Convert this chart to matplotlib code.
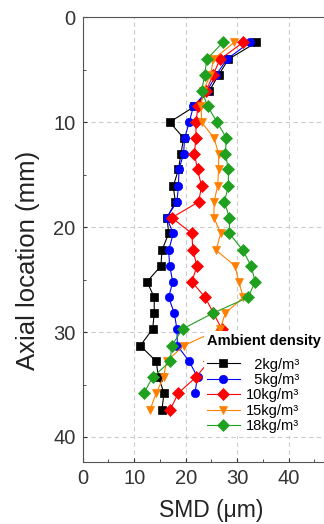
import matplotlib.pyplot as plt
from matplotlib.ticker import MultipleLocator

plt.rcParams['font.family'] = ['Liberation Sans', 'DejaVu Sans']

# Axial positions of the measurement rows (mm)
axial = [2.4, 4.0, 5.5, 7.0, 8.5, 10.0, 11.5, 13.0, 14.5, 16.1, 17.6, 19.1,
         20.6, 22.2, 23.7, 25.2, 26.7, 28.2, 29.7, 31.3, 32.8, 34.3, 35.8, 37.4]

# SMD (um) per ambient density
smd_2 = [33.7, 28.3, 26.4, 24.6, 21.7, 16.9, 19.6, 19.1, 18.6, 17.6, 18.0, 16.4,
         16.7, 15.4, 15.2, 12.5, 13.9, 13.9, 13.6, 11.2, 14.3, 14.7, 15.8, 15.4]
smd_5 = [32.4, 28.0, 25.9, 24.2, 21.5, 20.7, 19.8, 19.6, 18.7, 18.6, 18.3, 16.3,
         17.6, 16.7, 16.9, 17.5, 16.7, 17.8, 18.3, 18.4, 20.7, 22.3, 21.8]
smd_10 = [31.1, 26.7, 25.3, 24.0, 22.4, 22.0, 22.0, 21.7, 22.3, 23.1, 22.5, 17.3,
          21.2, 21.4, 22.2, 21.2, 23.8, 25.4, 27.0, 25.5, 24.5, 22.0, 18.6, 17.0]
smd_15 = [29.4, 25.4, 24.8, 23.4, 23.0, 23.1, 25.5, 26.4, 26.4, 26.2, 25.5, 25.5,
          26.8, 25.9, 29.6, 30.3, 31.2, 27.7, 26.7, 19.6, 16.3, 15.7, 14.3, 13.1]
smd_18 = [27.2, 24.1, 23.7, 23.1, 24.3, 26.1, 27.9, 27.7, 28.3, 28.3, 27.5, 28.5,
          28.5, 31.1, 32.7, 33.5, 32.1, 25.3, 19.4, 17.3, 17.0, 13.6, 11.9]

labels = ['  2kg/m³', '  5kg/m³', '10kg/m³', '15kg/m³', '18kg/m³']
colors = ['black', '#0000ff', '#ff0000', '#ff8000', '#1fa01f']
markers = ['s', 'o', 'D', 'v', 'D']

fig = plt.figure(figsize=(3.24, 5.24), dpi=100)
ax = fig.add_axes([0.255, 0.118, 0.795, 0.849])

series = [smd_2, smd_5, smd_10, smd_15, smd_18]
for vals, lab, c, m in zip(series, labels, colors, markers):
    ax.plot(vals, axial[:len(vals)], color=c, marker=m, markersize=6,
            linewidth=0.8, label=lab, markeredgewidth=0.5, markeredgecolor=c)

ax.set_xlim(0, 50)
ax.set_ylim(42.4, 0)
ax.xaxis.set_major_locator(MultipleLocator(10))
ax.xaxis.set_minor_locator(MultipleLocator(5))
ax.yaxis.set_major_locator(MultipleLocator(10))
ax.yaxis.set_minor_locator(MultipleLocator(5))
ax.set_xticks([0, 10, 20, 30, 40])
ax.tick_params(which='both', direction='in', labelsize=14.5, colors='#333333', pad=5)
ax.tick_params(which='major', length=3)
ax.tick_params(which='minor', length=2)
ax.grid(True, which='major', color='#cccccc', linestyle=(0, (4, 3)), linewidth=0.8)
for s in ax.spines.values():
    s.set_color('#555555')
    s.set_linewidth(0.8)

ax.set_xlabel('SMD (μm)', fontsize=16.5, labelpad=8, color='#222222')
ax.set_ylabel('Axial location (mm)', fontsize=18.5, color='#222222')
ax.yaxis.set_label_coords(-0.165, 0.454)

leg = ax.legend(loc='upper left', bbox_to_anchor=(0.47, 0.295), fontsize=10.5,
                title='Ambient density', title_fontproperties={'weight': 'bold', 'size': 10.5},
                frameon=True, framealpha=1, edgecolor='none', handlelength=2.3,
                labelspacing=0.1, borderpad=0.2, handletextpad=0.4,
                alignment='left', borderaxespad=0)
# extra gap between the legend title and the entries
leg._legend_box.sep = 7

fig.savefig('out.png', dpi=100)
